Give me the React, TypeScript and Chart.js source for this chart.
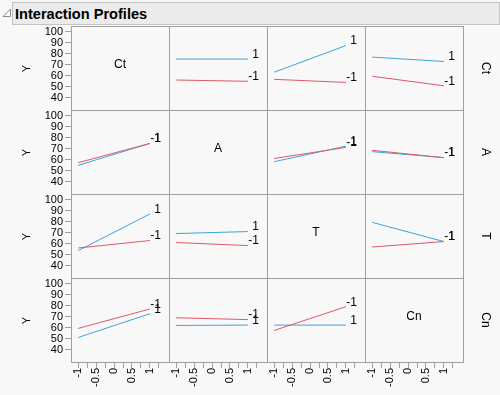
import React, { useEffect, useRef } from 'react';
import { Chart, registerables } from 'chart.js';

Chart.register(...registerables);

// ---------- data ----------
const factors = ['Ct', 'A', 'T', 'Cn'];
const highLabel = '1';
const lowLabel = '-1';
const xLevels = [-1, 1];
const yTickValues = [40, 50, 60, 70, 80, 90, 100];
const xTickValues = [-1, -0.75, -0.5, -0.25, 0, 0.25, 0.5, 0.75, 1, 1.25];
const xTickLabels = ['-1', '', '-0.5', '', '0', '', '0.5', '', '1', ''];

// Y at x = -1 and x = 1 for each column factor (Ct, A, T, Cn); null on the diagonal
const ctRowHigh = [null, [75.1, 75.1], [63.1, 87.4], [76.9, 72.9]];
const ctRowLow = [null, [56.0, 54.8], [56.6, 53.8], [59.4, 50.7]];
const aRowHigh = [[54.8, 74.8], null, [58.1, 72.3], [67.3, 61.8]];
const aRowLow = [[57.2, 74.8], null, [61.0, 71.2], [68.5, 61.8]];
const tRowHigh = [[53.6, 87.1], [69.2, 71.0], null, [79.4, 61.9]];
const tRowLow = [[56.0, 62.8], [61.0, 58.2], null, [56.9, 61.9]];
const cnRowHigh = [[51.0, 72.7], [62.0, 62.3], [62.3, 62.3], null];
const cnRowLow = [[59.3, 77.0], [69.0, 67.3], [57.4, 79.1], null];

const highRows = [ctRowHigh, aRowHigh, tRowHigh, cnRowHigh];
const lowRows = [ctRowLow, aRowLow, tRowLow, cnRowLow];

// ---------- style / layout ----------
const FONT = '"Liberation Sans", Arial, sans-serif';
const BLUE = '#3ea3d9';
const RED = '#df5869';
const GRID = '#a0a0a0';
const BG = '#f8f8f8';
const GRID_LEFT = 71;
const GRID_TOP = 26;
const CELL_W = 98;
const CELL_H = 84;
const Y_AXIS_W = 71;
const X_AXIS_H = 32;

const cellPlugin = {
  id: 'cellDecor',
  afterDatasetsDraw(chart: any) {
    const { ctx, chartArea: a, scales } = chart;
    ctx.save();
    ctx.strokeStyle = GRID;
    ctx.lineWidth = 1;
    ctx.strokeRect(a.left + 0.5, a.top + 0.5, a.right - a.left - 1, a.bottom - a.top - 1);
    ctx.font = '12px ' + FONT;
    ctx.fillStyle = '#000';
    ctx.textAlign = 'right';
    ctx.textBaseline = 'middle';
    chart.data.datasets.forEach((ds: any) => {
      const last = ds.data[ds.data.length - 1];
      const px = scales.x.getPixelForValue(last.x);
      const py = scales.y.getPixelForValue(last.y);
      ctx.fillText(ds.label, px + 11, py - 4.5);
    });
    ctx.restore();
  },
};

function zeroPadding(s: any) {
  s.paddingTop = 0;
  s.paddingBottom = 0;
  s.paddingLeft = 0;
  s.paddingRight = 0;
}

function makeConfig(r: number, c: number): any {
  const showY = c === 0;
  const showX = r === 3;
  const datasets: any[] = [];
  const hi = highRows[r][c];
  const lo = lowRows[r][c];
  if (hi && lo) {
    datasets.push({
      label: lowLabel,
      data: xLevels.map((x, i) => ({ x, y: lo[i] })),
      borderColor: RED,
      borderWidth: 1,
      pointRadius: 0,
      tension: 0,
    });
    datasets.push({
      label: highLabel,
      data: xLevels.map((x, i) => ({ x, y: hi[i] })),
      borderColor: BLUE,
      borderWidth: 1,
      pointRadius: 0,
      tension: 0,
    });
  }
  const xScale: any = {
    type: 'linear',
    display: showX,
    min: -1.2,
    max: 1.56,
    afterBuildTicks: (s: any) => {
      s.ticks = xTickValues.map((v) => ({ value: v }));
    },
    afterFit: (s: any) => {
      if (showX) s.height = X_AXIS_H;
      zeroPadding(s);
    },
    grid: { drawOnChartArea: false, drawTicks: true, tickLength: 5, color: GRID },
    border: { display: false },
    ticks: {
      display: showX,
      autoSkip: false,
      minRotation: 90,
      maxRotation: 90,
      padding: 0,
      color: '#000',
      font: { family: FONT, size: 11 },
      callback: (_v: any, i: number) => xTickLabels[i],
    },
  };
  const yScale: any = {
    type: 'linear',
    display: showY,
    min: 27.7,
    max: 105.3,
    afterBuildTicks: (s: any) => {
      s.ticks = yTickValues.map((v) => ({ value: v }));
    },
    afterFit: (s: any) => {
      if (showY) s.width = Y_AXIS_W;
      zeroPadding(s);
    },
    grid: { drawOnChartArea: false, drawTicks: true, tickLength: 6, color: GRID },
    border: { display: false },
    ticks: {
      display: showY,
      autoSkip: false,
      padding: 2,
      color: '#000',
      font: { family: FONT, size: 11 },
      callback: (v: any) => String(v),
    },
    title: {
      display: showY,
      text: 'Y',
      color: '#000',
      font: { family: FONT, size: 11 },
      padding: { top: 20, bottom: 0 },
    },
  };
  return {
    type: 'line',
    data: { datasets },
    options: {
      animation: false,
      responsive: false,
      maintainAspectRatio: false,
      events: [],
      layout: { padding: 0 },
      plugins: { legend: { display: false }, tooltip: { enabled: false } },
      scales: { x: xScale, y: yScale },
    },
    plugins: [cellPlugin],
  };
}

function Cell({ r, c }: { r: number; c: number }) {
  const ref = useRef<HTMLCanvasElement | null>(null);
  const left = c === 0 ? 0 : GRID_LEFT + CELL_W * c;
  const top = GRID_TOP + CELL_H * r;
  const w = (c === 0 ? GRID_LEFT : 0) + CELL_W + 1;
  const h = CELL_H + 1 + (r === 3 ? X_AXIS_H : 0);
  useEffect(() => {
    const chart = new Chart(ref.current as HTMLCanvasElement, makeConfig(r, c));
    return () => chart.destroy();
  }, [r, c]);
  return (
    <canvas
      ref={ref}
      width={w}
      height={h}
      style={{ position: 'absolute', left, top, width: w, height: h }}
    />
  );
}

export default function App() {
  const cells: any[] = [];
  for (let r = 0; r < 4; r++) for (let c = 0; c < 4; c++) cells.push(<Cell key={r + '-' + c} r={r} c={c} />);
  return (
    <div
      style={{
        position: 'absolute',
        left: 0,
        top: 0,
        width: 500,
        height: 395,
        background: BG,
        overflow: 'hidden',
        fontFamily: FONT,
      }}
    >
      <svg width={14} height={20} style={{ position: 'absolute', left: 0, top: 4 }}>
        <polygon points="3,12.5 10.5,5 10.5,12.5" fill="#fafafa" stroke="#8a8a8a" strokeWidth={1} />
      </svg>
      <div
        style={{
          position: 'absolute',
          left: 12,
          top: 2,
          width: 484,
          height: 21,
          background: '#ebebeb',
          border: '1px solid #c4c4c4',
          fontWeight: 'bold',
          fontSize: 14.6,
          lineHeight: '22px',
          paddingLeft: 2,
          color: '#000',
          boxSizing: 'content-box',
        }}
      >
        Interaction Profiles
      </div>
      {cells}
      {factors.map((f, i) => (
        <div
          key={'d' + f}
          style={{
            position: 'absolute',
            left: GRID_LEFT + CELL_W * i + CELL_W / 2,
            top: GRID_TOP + CELL_H * i + CELL_H / 2 - 4,
            transform: 'translate(-50%, -50%)',
            fontSize: 12,
            color: '#000',
            whiteSpace: 'nowrap',
          }}
        >
          {f}
        </div>
      ))}
      {factors.map((f, i) => (
        <div
          key={'r' + f}
          style={{
            position: 'absolute',
            left: 486,
            top: GRID_TOP + CELL_H * i + CELL_H / 2,
            transform: 'translate(-50%, -50%) rotate(90deg)',
            fontSize: 12,
            color: '#000',
            whiteSpace: 'nowrap',
          }}
        >
          {f}
        </div>
      ))}
    </div>
  );
}
